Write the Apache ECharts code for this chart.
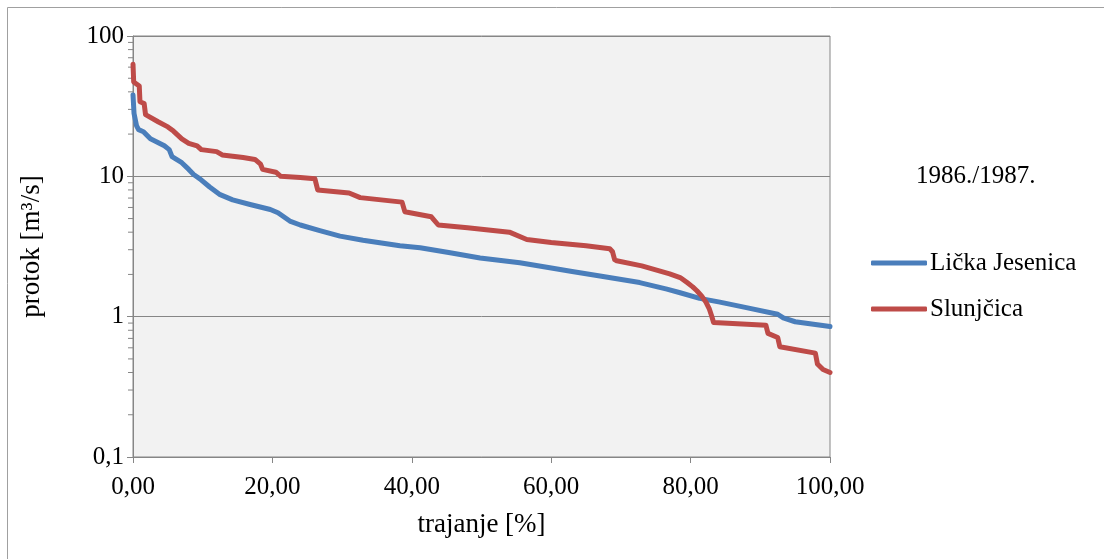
<!DOCTYPE html>
<html>
<head>
<meta charset="utf-8">
<script src="https://cdn.jsdelivr.net/npm/echarts@6/dist/echarts.min.js"></script>
<style>
  html, body { margin: 0; padding: 0; background: #ffffff; }
  #chart { width: 1104px; height: 559px; }
</style>
</head>
<body>
<div id="chart"></div>
<script>
// Flow duration curves, hydrological year 1986./1987.
const yearLabel = '1986./1987.';
const seriesNames = ['Lička Jesenica', 'Slunjčica'];

// Lička Jesenica: duration [%] and discharge [m3/s]
const jesenicaDuration = [0, 0.15, 0.5, 0.8, 1.5, 2.5, 3.5, 4.5, 5.2, 5.6, 7.0, 8.0, 8.7, 9.6,
  11, 12.5, 14.3, 16.8, 19.7, 20.8, 22.5, 24, 26.8, 29.7, 33, 38.3, 41.2, 45.5, 49.8,
  55.5, 59.8, 63, 67, 72.7, 76.6, 78.5, 81.3, 84.2, 88, 92.5, 93.3, 95, 100];
const jesenicaFlow = [38, 28, 23, 21.5, 20.8, 18.5, 17.5, 16.5, 15.5, 13.8, 12.5, 11.2, 10.3, 9.6,
  8.4, 7.4, 6.8, 6.3, 5.8, 5.5, 4.8, 4.5, 4.1, 3.75, 3.5, 3.2, 3.1, 2.85, 2.62,
  2.42, 2.23, 2.1, 1.95, 1.75, 1.57, 1.48, 1.35, 1.27, 1.16, 1.04, 0.98, 0.92, 0.85];

// Slunjčica: duration [%] and discharge [m3/s]
const slunjcicaDuration = [0, 0.1, 0.9, 1.0, 1.6, 1.8, 3.6, 5.0, 5.8, 7.0, 8.0, 9.2, 9.8, 12.0,
  12.8, 15.8, 17.5, 18.3, 18.6, 20.5, 21.2, 24, 26.1, 26.5, 31.0, 32.6, 38.6, 39.0, 42.8,
  43.8, 48, 54, 56.5, 60, 65, 68.4, 68.8, 69.1, 69.4, 73, 75.5, 77, 78.5, 79.5, 80.3, 80.9,
  81.6, 82.2, 82.7, 83.0, 83.3, 90.8, 91.1, 92.5, 92.8, 97.9, 98.2, 99, 100];
const slunjcicaFlow = [63, 47, 44, 34, 33, 27.5, 24.5, 22.5, 21, 18.5, 17.2, 16.5, 15.5, 15,
  14.2, 13.6, 13.2, 12.2, 11.2, 10.7, 10.0, 9.8, 9.6, 8.0, 7.6, 7.05, 6.55, 5.6, 5.15,
  4.5, 4.3, 4.0, 3.55, 3.38, 3.2, 3.05, 2.9, 2.55, 2.5, 2.3, 2.12, 2.02, 1.9, 1.75, 1.63, 1.53,
  1.4, 1.27, 1.13, 1.02, 0.91, 0.87, 0.76, 0.71, 0.61, 0.55, 0.46, 0.42, 0.40];

// Axis ticks
const xTicks = [0, 20, 40, 60, 80, 100];
const yTicks = [0.1, 1, 10, 100];
const yMinorTicks = [0.2, 0.3, 0.4, 0.5, 0.6, 0.7, 0.8, 0.9,
  2, 3, 4, 5, 6, 7, 8, 9, 20, 30, 40, 50, 60, 70, 80, 90];

const FONT = '"Liberation Serif", "Times New Roman", serif';
const AXIS_GRAY = '#868686';
const LABEL_SIZE = 25;
const NAME_SIZE = 27;

function pairs(xs, ys) { return xs.map((x, i) => [x, ys[i]]); }

const chart = echarts.init(document.getElementById('chart'), null, { renderer: 'canvas' });

chart.setOption({
  animation: false,
  backgroundColor: '#ffffff',
  textStyle: { fontFamily: FONT, color: '#000' },
  graphic: [{
    type: 'rect',
    shape: { x: 7.5, y: 7.5, width: 1200, height: 700 },
    style: { fill: 'none', stroke: '#a0a0a0', lineWidth: 1 },
    silent: true, z: -10
  }],
  title: {
    text: yearLabel,
    left: 916, top: 164,
    padding: 0,
    textStyle: { fontFamily: FONT, fontSize: LABEL_SIZE, fontWeight: 'normal', color: '#000' }
  },
  legend: {
    data: seriesNames,
    orient: 'vertical',
    left: 871, top: 250,
    padding: 0,
    icon: 'roundRect',
    itemWidth: 56, itemHeight: 5, itemGap: 20,
    textStyle: { fontFamily: FONT, fontSize: LABEL_SIZE, color: '#000', lineHeight: 26, padding: [0, 0, 0, -2] }
  },
  grid: {
    left: 133, right: 274, top: 36, bottom: 102,
    show: true, backgroundColor: '#f2f2f2', borderColor: AXIS_GRAY, borderWidth: 1
  },
  xAxis: {
    type: 'value', min: 0, max: 100, interval: 20,
    name: 'trajanje [%]', nameLocation: 'middle', nameGap: 54,
    nameTextStyle: { fontFamily: FONT, fontSize: NAME_SIZE, color: '#000' },
    axisLine: { show: true, lineStyle: { color: AXIS_GRAY, width: 1 } },
    axisTick: { show: true, inside: false, length: 6, lineStyle: { color: AXIS_GRAY } },
    axisLabel: {
      margin: 18, fontFamily: FONT, fontSize: LABEL_SIZE, color: '#000',
      formatter: v => xTicks.includes(v) ? v.toFixed(2).replace('.', ',') : ''
    },
    splitLine: { show: false }
  },
  yAxis: {
    type: 'log', logBase: 10, min: 0.1, max: 100,
    name: 'protok [m³/s]', nameLocation: 'middle', nameGap: 88, nameRotate: 90,
    nameTextStyle: { fontFamily: FONT, fontSize: NAME_SIZE, color: '#000' },
    axisLine: { show: true, lineStyle: { color: AXIS_GRAY, width: 1 } },
    axisTick: { show: true, inside: false, length: 6, lineStyle: { color: AXIS_GRAY } },
    axisLabel: {
      margin: 9, fontFamily: FONT, fontSize: LABEL_SIZE, color: '#000',
      formatter: v => {
        const t = yTicks.find(k => Math.abs(k - v) / k < 1e-6);
        return t === undefined ? '' : String(t).replace('.', ',');
      }
    },
    splitLine: { show: true, lineStyle: { color: AXIS_GRAY, width: 1 } }
  },
  series: [
    {
      name: seriesNames[0], type: 'line', showSymbol: false, symbol: 'none',
      data: pairs(jesenicaDuration, jesenicaFlow),
      lineStyle: { color: '#4a7ebb', width: 5, cap: 'round', join: 'round' },
      itemStyle: { color: '#4a7ebb' }, z: 3
    },
    {
      name: seriesNames[1], type: 'line', showSymbol: false, symbol: 'none',
      data: pairs(slunjcicaDuration, slunjcicaFlow),
      lineStyle: { color: '#be4b48', width: 5, cap: 'round', join: 'round' },
      itemStyle: { color: '#be4b48' }, z: 4
    },
    {
      // minor ticks of the logarithmic axis at 2..9 of each decade
      type: 'custom', silent: true, clip: false, z: 2,
      data: yMinorTicks.map(v => [0, v]),
      renderItem: (params, api) => {
        const p = api.coord([api.value(0), api.value(1)]);
        return {
          type: 'line',
          shape: { x1: p[0] - 5, y1: p[1], x2: p[0], y2: p[1] },
          style: { stroke: AXIS_GRAY, lineWidth: 1 }
        };
      }
    }
  ]
});
</script>
</body>
</html>
